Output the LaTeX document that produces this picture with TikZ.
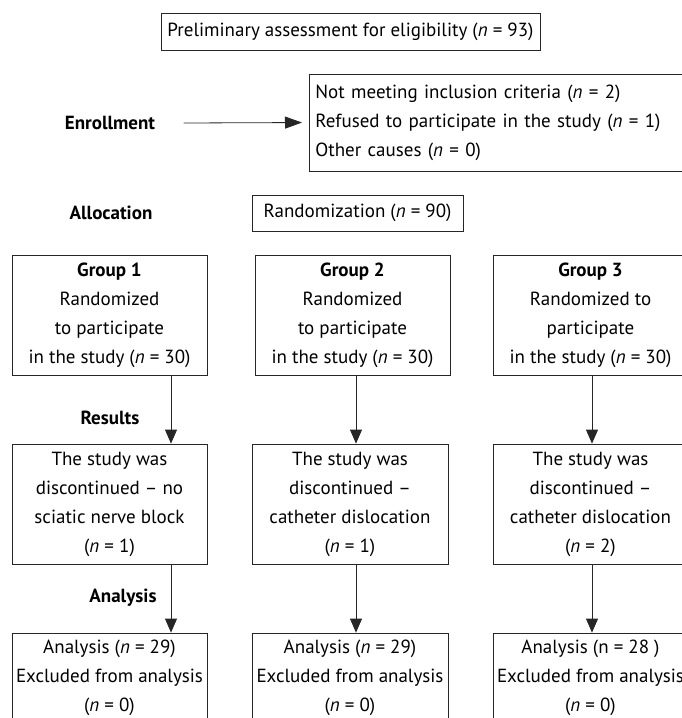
\documentclass[tikz,border=0pt]{standalone}
\usepackage{fontspec}
\setmainfont{PT Sans}
\usetikzlibrary{arrows.meta, positioning}
\newcommand{\nval}[1]{(\textit{n} = #1)}

\begin{document}
\begin{tikzpicture}[
	x=1pt, y=-1pt,
	font=\fontsize{19}{29}\selectfont,
	box/.style = {draw=black!85, line width=0.8pt, align=center, inner sep=0pt, minimum width=195pt},
	gbox/.style = {box, minimum height=120pt},
	lab/.style = {font=\fontsize{19}{29}\selectfont\bfseries},
	arr/.style = {draw=black!85, line width=0.8pt, -{Triangle[length=14pt,width=12pt]}},
	sx0/.style = {xshift=25pt},
	sx1/.style = {xshift=61.5pt},
	sx2/.style = {xshift=3.5pt},
	sx3/.style = {xshift=1.5pt},
	sr2/.style = {xshift=6pt}
     ]
		\useasboundingbox (0,0) rectangle (682,718);
		\clip (0,0) rectangle (682,718);
%
		\node[box, minimum width=379pt, minimum height=37pt] (elig) at (350.5,31.5)
			{Preliminary assessment for eligibility \nval{93}};
		\node[lab] (enr) at (110,123) {Enrollment};
		\node[box, anchor=west, text width=388pt, align=left, inner xsep=6pt, minimum height=97pt] (excl) at (309,122.5)
			{Not meeting inclusion criteria \nval{2}\\
			 Refused to participate in the study \nval{1}\\
			 Other causes \nval{0}};
		\draw[arr, shorten >=7pt, -{Triangle[length=17pt,width=12pt]}] ([sx0] enr.east) -- (excl.west);
%
		\node[lab] (alloc) at (111,213) {Allocation};
		\node[box, minimum width=211pt, minimum height=36pt] (rand) at (357.5,213) {Randomization \nval{90}};
%
		\node[gbox] (g1) at (109.5,315) {\textbf{Group 1}\\Randomized\\to participate\\in the study \nval{30}};
		\node[gbox] (g2) at (352.5,315) {\textbf{Group 2}\\Randomized\\to participate\\in the study \nval{30}};
		\node[gbox] (g3) at (590.5,315) {\textbf{Group 3}\\Randomized to\\participate\\in the study \nval{30}};
%
		\node[lab] (res) at (110,418) {Results};
		\node[gbox] (r1) at (109.5,504) {The study was\\discontinued -- no\\sciatic nerve block\\\nval{1}};
		\node[gbox, minimum width=196pt] (r2) at (350,504) {The study was\\discontinued --\\catheter dislocation\\\nval{1}};
		\node[gbox] (r3) at (590.5,504) {The study was\\discontinued --\\catheter dislocation\\\nval{2}};
%
		\draw[arr] ([sx1] g1.south) coordinate (c1) -- (c1 |- r1.north);
		\draw[arr] ([sx2] g2.south) coordinate (c2) -- (c2 |- r2.north);
		\draw[arr] ([sx3] g3.south) coordinate (c3) -- (c3 |- r3.north);
%
		\node[lab] (ana) at (123,598) {Analysis};
		\node[box, minimum height=90pt] (a1) at (109.5,678) {Analysis \nval{29}\\Excluded from analysis\\\nval{0}};
		\node[box, minimum width=196pt, minimum height=90pt] (a2) at (350,678) {Analysis \nval{29}\\Excluded from analysis\\\nval{0}};
		\node[box, minimum height=90pt] (a3) at (590.5,678) {Analysis (n = 28 )\\Excluded from analysis\\\nval{0}};
%
		\draw[arr] ([sx1] r1.south) coordinate (d1) -- (d1 |- a1.north);
		\draw[arr] ([sr2] r2.south) coordinate (d2) -- (d2 |- a2.north);
		\draw[arr] ([sx3] r3.south) coordinate (d3) -- (d3 |- a3.north);
\end{tikzpicture}
\end{document}
